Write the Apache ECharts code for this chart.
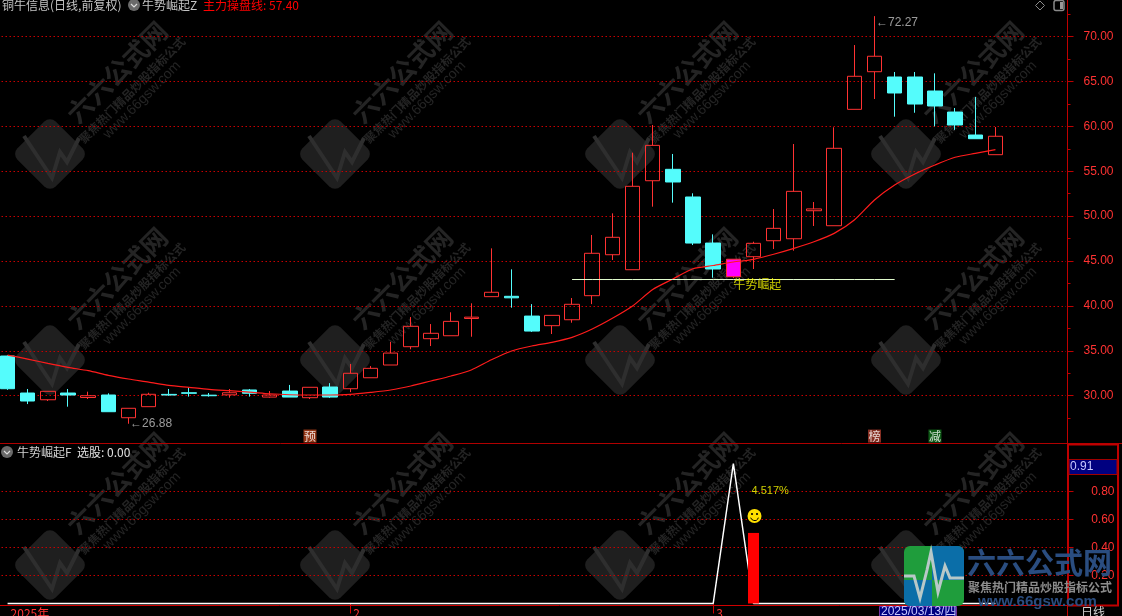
<!DOCTYPE html>
<html><head><meta charset="utf-8">
<style>html,body{margin:0;padding:0;background:#000;overflow:hidden}#c{width:1122px;height:616px}</style>
<script src="https://cdn.jsdelivr.net/npm/echarts@6/dist/echarts.min.js"></script>
</head><body><div id="c"></div>
<script>
const categories = ['01/03','01/06','01/07','01/08','01/09','01/10','01/13','01/14','01/15','01/16','01/17','01/20','01/21','01/22','01/23','01/24','01/27',
 '02/05','02/06','02/07','02/10','02/11','02/12','02/13','02/14','02/17','02/18','02/19','02/20','02/21','02/24','02/25','02/26','02/27','02/28',
 '03/03','03/04','03/05','03/06','03/07','03/10','03/11','03/12','03/13','03/14','03/17','03/18','03/19','03/20','03/21','','',''];
const opens  = [34.42,30.30,29.55,30.30,29.80,30.08,27.55,28.78,30.15,30.33,30.06,30.10,30.64,29.85,30.52,29.78,30.97,30.78,32.00,33.42,35.46,36.35,36.68,38.60,41.03,41.07,38.87,37.80,38.46,41.14,45.70,44.03,53.94,55.21,52.13,47.00,43.25,45.48,47.26,47.48,50.60,48.93,61.89,66.08,65.49,65.49,63.93,61.59,59.03,56.84];
const closes = [30.78,29.41,30.49,30.08,30.00,28.22,28.60,30.16,30.08,30.27,30.00,30.33,30.27,30.08,29.85,30.94,29.85,32.50,33.05,34.75,37.73,36.95,38.28,38.75,41.52,40.90,37.20,38.95,40.18,45.86,47.64,53.32,57.88,53.80,47.00,44.11,45.20,46.97,48.64,52.76,50.80,57.55,65.57,67.80,63.71,62.48,62.26,60.15,58.62,58.89];
const lows   = [30.65,29.07,29.41,28.78,29.63,28.22,26.88,28.78,30.00,29.90,29.90,29.78,29.90,29.78,29.85,29.63,29.75,30.40,32.00,33.42,35.17,35.53,36.68,36.57,41.03,39.80,37.10,36.87,38.13,40.20,45.11,44.03,51.05,51.50,46.78,43.14,43.10,44.11,46.34,46.15,48.90,48.93,61.89,63.04,61.07,61.51,60.00,59.60,58.62,56.84];
const highs  = [34.50,30.75,30.49,30.75,30.45,30.27,28.60,30.33,30.75,30.90,30.30,30.75,30.75,30.52,31.20,30.94,31.40,33.53,33.30,36.00,38.76,37.98,39.29,40.29,46.41,44.07,40.20,38.95,40.88,47.90,50.31,57.06,60.15,56.92,52.54,47.97,45.20,47.15,50.79,58.03,51.57,59.89,69.05,72.27,66.05,66.05,65.90,62.04,63.26,59.92];
const mainLine = [34.53,34.08,33.60,33.16,32.79,32.27,31.86,31.52,31.15,30.93,30.71,30.56,30.41,30.22,30.11,30.08,30.08,30.15,30.37,30.64,31.08,31.64,32.20,32.87,34.00,34.98,35.54,35.95,36.50,37.43,38.62,39.99,41.83,43.00,44.14,44.50,44.89,45.19,45.75,46.41,47.15,48.08,49.57,51.80,53.46,54.69,55.69,56.55,56.99,57.40];
const signalLevel = [null,null,null,null,null,null,null,null,null,null,null,null,null,null,null,null,null,null,null,null,null,null,null,null,null,null,null,null,42.94,42.94,42.94,42.94,42.94,42.94,42.94,42.94,42.94,42.94,42.94,42.94,42.94,42.94,42.94,42.94,42.94];
const pickLine = [0,0,0,0,0,0,0,0,0,0,0,0,0,0,0,0,0,0,0,0,0,0,0,0,0,0,0,0,0,0,0,0,0,0,0,0,1,0,0,0,0,0,0,0,0,0,0,0,0,0];
const pickBar = [[37,0.504]];
const upperTicks = [30,35,40,45,50,55,60,65,70];
const upperMinor = [27.5,32.5,37.5,42.5,47.5,52.5,57.5,62.5,67.5,72.5];
const lowerTicks = [0.2,0.4,0.6,0.8];
const xLabels = {0:'2025年',17:'2',35:'3'};
const highlightIndex = 36;
const extremes = [[6,26.88,'←26.88'],[43,71.5,'←72.27']];
const riseLabel = [[36,42.44,'牛势崛起']];
const pctLabel = [[37,0.804,'4.517%']];
const smiley = [[37,0.625]];
const badges = [[15,25.51,'预','#b8431c'],[43,25.51,'榜','#a83a2a'],[46,25.51,'减','#12701c']];
const mainName = '牛势崛起Z', lowerName = '牛势崛起F';

const CJK = '"Noto Sans CJK SC"', LAT = '"Liberation Sans"';
const RED = '#ff3232', CYAN = '#54fcfc', DOT = '#c80000';
const candleData = opens.map((o,i)=>{
  const v=[o,closes[i],lows[i],highs[i]];
  return i===highlightIndex ? {value:v,itemStyle:{color:'#ff00ff',borderColor:RED}} : v;
});
const chart = echarts.init(document.getElementById('c'),null,{renderer:'canvas'});
const g = [];
const wmC='#1f1f1f', wmT='#242424';
[50,335,620,906].forEach(x=>[154,360,565].forEach(y=>{
  g.push({type:'rect',x:x,y:y,rotation:Math.PI/4,z:-5,shape:{x:-27,y:-27,width:54,height:54,r:8},style:{fill:wmC},silent:true});
  g.push({type:'polyline',x:x,y:y,z:-4,shape:{points:[[-26,-18],[-6,12],[2,24],[10,-2],[17,8],[29,-16]]},style:{stroke:'#2e2e2e',lineWidth:4,fill:null},silent:true});
  [[67,-82,'六六公式网','bold 26px '+CJK],[82,-64,'聚焦热门精品炒股指标公式','bold 12px '+CJK],[92,-54,'www.66gsw.com','14px '+LAT]].forEach(t=>{
    g.push({type:'text',x:x+t[0],y:y+t[1],rotation:Math.PI/4,z:-4,style:{text:t[2],font:t[3],fill:wmT,align:'center',verticalAlign:'middle'},silent:true});
  });
}));
const T=(x,y,text,fill,font,z)=>({type:'text',x,y,z:z||20,silent:true,style:{text,fill,font:font||('12px '+CJK),verticalAlign:'middle'}});
const chevron=(x,y)=>[{type:'circle',z:20,silent:true,shape:{cx:x,cy:y,r:6},style:{fill:'#6a6a6a'}},
  {type:'polyline',z:21,silent:true,shape:{points:[[x-3,y-1],[x,y+2],[x+3,y-1]]},style:{stroke:'#ddd',lineWidth:1.2,fill:null}}];
g.push(T(2,5,'铜牛信息(日线,前复权)','#c4c4c4'),...chevron(134,5),T(142,5,mainName,'#c4c4c4'),T(203,5,'主力操盘线: 57.40','#ff0000'));
g.push(...chevron(7,452),T(17,452,lowerName,'#d0d0d0'),T(77,452,'选股: 0.00','#e0e0e0'));
g.push({type:'polygon',z:20,silent:true,shape:{points:[[1040,1],[1044.5,5.5],[1040,10],[1035.5,5.5]]},style:{fill:null,stroke:'#8a8a8a'}});
g.push({type:'rect',z:20,silent:true,shape:{x:1054,y:0.5,width:10,height:10,r:2},style:{fill:null,stroke:'#8a8a8a',lineWidth:1.5}});
g.push({type:'rect',z:20,silent:true,shape:{x:1060,y:2,width:3,height:7},style:{fill:'#999'}});
g.push({type:'line',z:20,silent:true,shape:{x1:1067.5,y1:0,x2:1067.5,y2:616},style:{stroke:'#c00000'}});
g.push({type:'line',z:20,silent:true,shape:{x1:0,y1:443.5,x2:1122,y2:443.5},style:{stroke:'#b00000'}});
g.push({type:'line',z:20,silent:true,shape:{x1:0,y1:605.5,x2:1119,y2:605.5},style:{stroke:'#d00000',lineWidth:1}});
g.push({type:'rect',z:20,silent:true,shape:{x:1068,y:444.5,width:50,height:161},style:{fill:null,stroke:'#c00000',lineWidth:2}});
g.push({type:'rect',z:21,silent:true,shape:{x:1069,y:459.5,width:48,height:15},style:{fill:'#000080',stroke:'#a00000'}});
g.push(T(1070,467,'0.91','#c8c8ff','12px '+LAT,22));
g.push({type:'rect',z:21,silent:true,shape:{x:879.5,y:606.5,width:77,height:11},style:{fill:'#000080',stroke:'#7030a0'}});
g.push(T(881,612,'2025/03/13/四','#c8c8ff','12px '+LAT+','+CJK,22));
g.push(T(1081,612,'日线','#d0d0d0','12px '+CJK,22));
// logo
g.push({type:'rect',z:30,silent:true,shape:{x:904,y:546,width:60,height:60,r:6},style:{fill:'#1f9d3c'}});
g.push({type:'rect',z:31,silent:true,shape:{x:932,y:546,width:32,height:34,r:[0,6,0,0]},style:{fill:'#0b6ea8'}});
g.push({type:'rect',z:31,silent:true,shape:{x:904,y:580,width:28,height:26,r:[0,0,0,6]},style:{fill:'#0b6ea8'}});
g.push({type:'polyline',z:32,silent:true,shape:{points:[[904,576],[914,576],[920,598],[927,570],[931,552],[938,592],[945,566],[950,578],[964,578]]},style:{stroke:'#b8c8c8',lineWidth:3,fill:null}});
g.push(T(967,563,'六六公式网','#2a4d80','bold 29px '+CJK,30));
g.push(T(968,587,'聚焦热门精品炒股指标公式','#8c8c8c','bold 12px '+CJK,30));
g.push(T(978,602,'www.66gsw.com','#2a4d80','bold 15px '+LAT,30));

chart.setOption({
  backgroundColor:'#000',animation:false,
  grid:[{left:-2.5,top:0,width:1068.5,height:443.5,show:false,outerBoundsMode:'none'},{left:-2.5,top:444,width:1068.5,height:161.5,show:false,outerBoundsMode:'none'}],
  xAxis:[
    {type:'category',gridIndex:0,data:categories,axisLine:{show:false},axisTick:{show:false},axisLabel:{show:false},splitLine:{show:false}},
    {type:'category',gridIndex:1,data:categories,axisLine:{show:false},
     axisTick:{show:true,alignWithLabel:true,length:10,interval:i=>i===17||i===35,lineStyle:{color:'#d00000'}},
     axisLabel:{show:true,interval:i=>xLabels[i]!==undefined,margin:2,color:RED,fontFamily:CJK,fontSize:12,align:'left',
       formatter:(v,i)=>xLabels[i]||'',padding:[0,0,0,3]},splitLine:{show:false}}
  ],
  yAxis:[
    {type:'value',gridIndex:0,position:'right',offset:1.5,min:24.68,max:74.065,
     axisLine:{show:false},axisTick:{show:true,length:6,customValues:upperTicks,lineStyle:{color:'#c00000'}},
     axisLabel:{show:true,customValues:upperTicks,color:RED,fontFamily:LAT,fontSize:12,margin:16,formatter:v=>v.toFixed(2)},
     splitLine:{show:true,lineStyle:{color:DOT,type:[1.5,2.5],width:1}}},
    {type:'value',gridIndex:0,position:'right',offset:1.5,min:24.68,max:74.065,
     axisLine:{show:false},axisTick:{show:true,length:3,customValues:upperMinor,lineStyle:{color:'#c00000'}},
     axisLabel:{show:false},splitLine:{show:false}},
    {type:'value',gridIndex:1,position:'right',offset:1.5,min:-0.0143,max:1.1393,
     axisLine:{show:false},axisTick:{show:true,length:6,customValues:lowerTicks,lineStyle:{color:'#c00000'}},
     axisLabel:{show:true,customValues:lowerTicks,color:RED,fontFamily:LAT,fontSize:12,margin:47,align:'right',formatter:v=>v.toFixed(2)},
     splitLine:{show:true,lineStyle:{color:DOT,type:[1.5,2.5],width:1}}}
  ],
  series:[
    {name:'K',type:'candlestick',xAxisIndex:0,yAxisIndex:0,data:candleData,barWidth:15,silent:true,
     itemStyle:{color:'transparent',color0:CYAN,borderColor:RED,borderColor0:CYAN,borderWidth:1},z:2},
    {name:'主力操盘线',type:'line',xAxisIndex:0,yAxisIndex:0,data:mainLine,showSymbol:false,smooth:0.25,silent:true,lineStyle:{color:'#ff1c1c',width:1.2},z:3},
    {name:'level',type:'line',xAxisIndex:0,yAxisIndex:0,data:signalLevel,showSymbol:false,silent:true,lineStyle:{color:'#e4ffd0',width:1},z:3},
    {name:'ext',type:'scatter',xAxisIndex:0,yAxisIndex:0,data:extremes,symbolSize:0,silent:true,z:4,
     label:{show:true,position:'right',distance:0,offset:[1.5,0],color:'#c0c0c0',fontFamily:LAT,fontSize:12,formatter:p=>p.data[2]}},
    {name:'rise',type:'scatter',xAxisIndex:0,yAxisIndex:0,data:riseLabel,symbolSize:0,silent:true,z:4,
     label:{show:true,position:'right',distance:0,color:'#ffff00',fontFamily:CJK,fontSize:12,formatter:p=>p.data[2]}},
    {name:'badge',type:'scatter',xAxisIndex:0,yAxisIndex:0,symbolSize:0,silent:true,z:4,
     data:badges.map(b=>({value:[b[0],b[1]],name:b[2],label:{backgroundColor:b[3]}})),
     label:{show:true,position:'inside',color:'#fff',fontFamily:CJK,fontSize:12,lineHeight:13,padding:[0,0.5],formatter:p=>p.name}},
    {name:'选股',type:'line',xAxisIndex:1,yAxisIndex:2,data:pickLine,showSymbol:false,silent:true,lineStyle:{color:'#fff',width:1.5},z:3},
    {name:'bar',type:'bar',xAxisIndex:1,yAxisIndex:2,data:pickBar,barWidth:11,silent:true,itemStyle:{color:'#ff0000'},z:4},
    {name:'pct',type:'scatter',xAxisIndex:1,yAxisIndex:2,data:pctLabel,symbolSize:0,silent:true,z:5,
     label:{show:true,position:'right',distance:0,offset:[-2,0],color:'#ffff00',fontFamily:LAT,fontSize:11,formatter:p=>p.data[2]}},
    {name:'face',type:'custom',xAxisIndex:1,yAxisIndex:2,data:smiley,silent:true,z:5,
     renderItem:(params,api)=>{
       const c=api.coord([api.value(0),api.value(1)]);
       return {type:'group',x:c[0]+1,y:c[1],children:[
         {type:'circle',shape:{cx:0,cy:0,r:7},style:{fill:'#ffe000'}},
         {type:'circle',shape:{cx:-2.5,cy:-2,r:1.1},style:{fill:'#000'}},
         {type:'circle',shape:{cx:2.5,cy:-2,r:1.1},style:{fill:'#000'}},
         {type:'arc',shape:{cx:0,cy:0.5,r:4,startAngle:0.3,endAngle:Math.PI-0.3},style:{stroke:'#000',fill:null,lineWidth:1}}
       ]};
     }}
  ],
  graphic:{elements:g}
});
</script></body></html>
